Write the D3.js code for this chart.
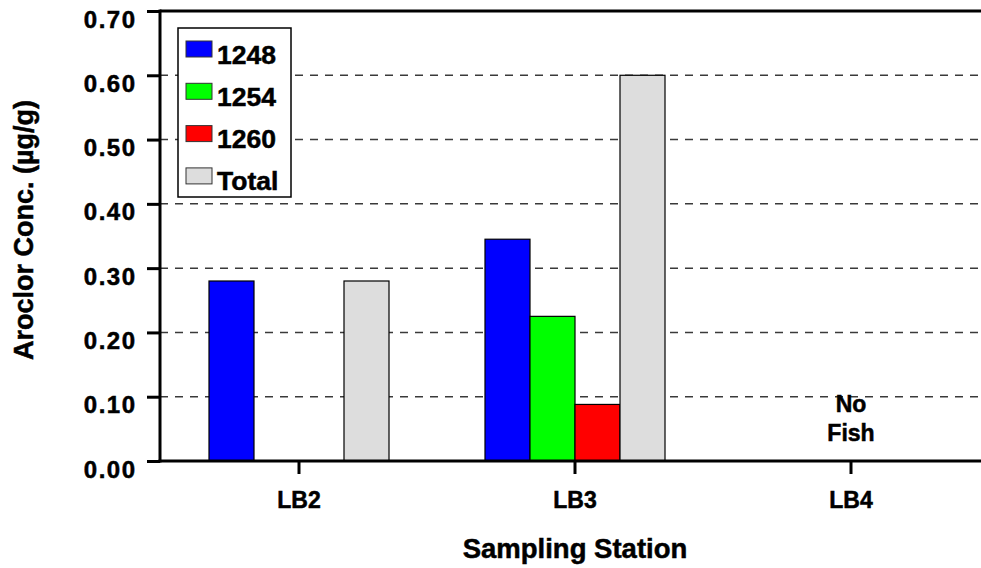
<!DOCTYPE html>
<html>
<head>
<meta charset="utf-8">
<script src="https://cdn.jsdelivr.net/npm/d3@7/dist/d3.min.js"></script>
<style>
  html, body { margin: 0; padding: 0; background: #fff; }
  svg { display: block; }
  text { font-family: "Liberation Sans", Arial, Helvetica, sans-serif; font-weight: bold; fill: #000; stroke: #000; stroke-width: 0.5px; }
</style>
</head>
<body>
<svg id="chart" width="981" height="568"></svg>
<script>
// ---- data ----
const stations = ["LB2", "LB3", "LB4"];
const seriesNames = ["1248", "1254", "1260", "Total"];
const seriesColors = ["#0000ff", "#00ff00", "#ff0000", "#dddddd"];
const values1248 = [0.28, 0.345, null];
const values1254 = [null, 0.225, null];
const values1260 = [null, 0.088, null];
const valuesTotal = [0.28, 0.60, null];
const yTicks = [0.00, 0.10, 0.20, 0.30, 0.40, 0.50, 0.60, 0.70];
const notes = [{station: "LB4", lines: ["No", "Fish"]}];
const xTitle = "Sampling Station";
const yTitle = "Aroclor Conc. (\u00b5g/g)";

const seriesValues = [values1248, values1254, values1260, valuesTotal];

// ---- layout ----
const svg = d3.select("#chart");
const plot = {left: 160, top: 11, right: 989, bottom: 461};

const x0 = d3.scaleBand().domain(stations).range([plot.left + 1, plot.right])
  .paddingInner(0.3478).paddingOuter(0.1739);
const x1 = d3.scaleBand().domain(seriesNames).range([0, x0.bandwidth()]).padding(0);
const y = d3.scaleLinear().domain([0, 0.70]).range([plot.bottom, plot.top]);

// gridlines
svg.append("g").selectAll("line").data(yTicks.filter(t => t > 0 && t < 0.7)).join("line")
  .attr("x1", plot.left).attr("x2", 981)
  .attr("y1", d => y(d)).attr("y2", d => y(d))
  .attr("stroke", "#3a3a3a").attr("stroke-width", 1.5)
  .attr("stroke-dasharray", "8,7");

// bars
const rows = [];
stations.forEach((s, i) => {
  seriesNames.forEach((n, j) => {
    const v = seriesValues[j][i];
    if (v != null) rows.push({station: s, series: n, color: seriesColors[j], value: v});
  });
});
svg.append("g").selectAll("rect").data(rows).join("rect")
  .attr("x", d => x0(d.station) + x1(d.series))
  .attr("y", d => y(d.value))
  .attr("width", x1.bandwidth())
  .attr("height", d => y(0) - y(d.value))
  .attr("fill", d => d.color)
  .attr("stroke", "#000").attr("stroke-width", 1.2);

// top border
svg.append("line").attr("x1", plot.left).attr("x2", 981)
  .attr("y1", plot.top).attr("y2", plot.top)
  .attr("stroke", "#000").attr("stroke-width", 3);

// y axis
const yAxis = d3.axisLeft(y).tickValues(yTicks).tickFormat(d3.format(".2f"))
  .tickSize(13).tickPadding(12);
const gy = svg.append("g").attr("transform", `translate(${plot.left},0)`).call(yAxis);
gy.select(".domain").attr("stroke", "#000").attr("stroke-width", 3)
  .attr("d", `M0,${plot.top - 1.5}V${plot.bottom + 1.5}`);
gy.selectAll(".tick line").attr("stroke", "#000").attr("stroke-width", 3);
gy.selectAll(".tick text").attr("font-size", 24).attr("letter-spacing", 1.5)
  .attr("font-family", "'Liberation Sans', Arial, sans-serif").attr("font-weight", "bold")
  .attr("dy", "16px").attr("x", -23.5);

// x axis
const xAxis = d3.axisBottom(x0).tickSize(13).tickPadding(20);
const gx = svg.append("g").attr("transform", `translate(0,${plot.bottom})`).call(xAxis);
gx.select(".domain").attr("stroke", "#000").attr("stroke-width", 3)
  .attr("d", `M${plot.left - 1.5},0H981`);
gx.selectAll(".tick line").attr("stroke", "#000").attr("stroke-width", 3);
gx.selectAll(".tick text").attr("font-size", 23)
  .attr("font-family", "'Liberation Sans', Arial, sans-serif").attr("font-weight", "bold")
  .attr("dy", 0).attr("y", 47);

// notes
notes.forEach(n => {
  const cx = x0(n.station) + x0.bandwidth() / 2;
  n.lines.forEach((t, k) => {
    svg.append("text").attr("x", cx).attr("y", 412 + k * 29)
      .attr("text-anchor", "middle").attr("font-size", 23).text(t);
  });
});

// titles
svg.append("text").attr("x", 575).attr("y", 558).attr("text-anchor", "middle")
  .attr("font-size", 27.5).text(xTitle);
svg.append("text").attr("transform", "translate(33,230) rotate(-90)")
  .attr("text-anchor", "middle").attr("font-size", 27).text(yTitle);

// legend
const lg = svg.append("g");
lg.append("rect").attr("x", 178).attr("y", 28).attr("width", 113).attr("height", 169)
  .attr("fill", "#fff").attr("stroke", "#000").attr("stroke-width", 1.5);
seriesNames.forEach((n, j) => {
  const yy = 41 + j * 42.3;
  lg.append("rect").attr("x", 186).attr("y", yy).attr("width", 26).attr("height", 16)
    .attr("fill", seriesColors[j]).attr("stroke", "#333").attr("stroke-width", 1);
  lg.append("text").attr("x", 217).attr("y", yy + 22.5).attr("font-size", 26.5).text(n);
});
</script>
</body>
</html>
